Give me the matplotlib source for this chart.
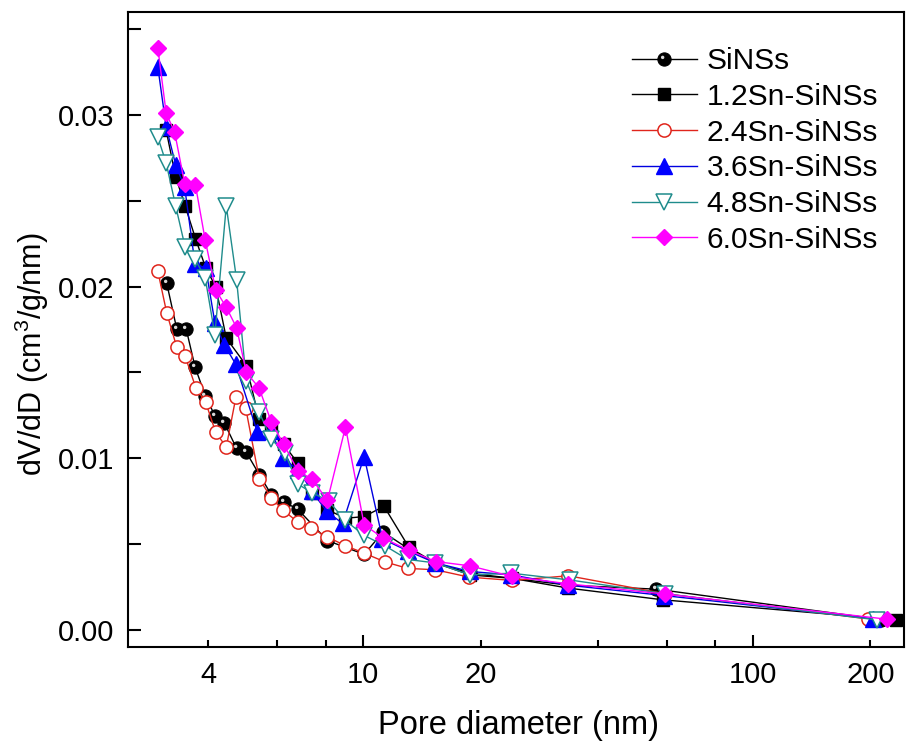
import matplotlib
matplotlib.use('Agg')
import matplotlib.pyplot as plt
import numpy as np
from matplotlib.path import Path
from matplotlib.ticker import FixedLocator, FixedFormatter, NullFormatter
from matplotlib.legend_handler import HandlerTuple

plt.rcParams['font.family'] = ['Liberation Sans', 'DejaVu Sans']
plt.rcParams['mathtext.fontset'] = 'custom'
plt.rcParams['mathtext.rm'] = 'Liberation Sans'

# ---------------- data ----------------
labels = ['SiNSs', '1.2Sn-SiNSs', '2.4Sn-SiNSs', '3.6Sn-SiNSs', '4.8Sn-SiNSs', '6.0Sn-SiNSs']

x_sinss = [3.13, 3.32, 3.51, 3.70, 3.93, 4.16, 4.40, 4.73, 5.01, 5.41, 5.81, 6.25, 6.78,
           8.09, 10.05, 11.24, 13.1, 15.3, 18.8, 24.1, 33.6, 56.5, 213]
y_sinss = [0.0202, 0.01755, 0.01755, 0.01532, 0.01364, 0.01248, 0.01205, 0.01057, 0.01034,
           0.00904, 0.00787, 0.00745, 0.00704, 0.0052, 0.0044, 0.0057, 0.0047, 0.0039,
           0.0033, 0.0030, 0.0026, 0.00237, 0.0006]

x_12 = [3.12, 3.30, 3.49, 3.71, 3.94, 4.18, 4.45, 5.01, 5.40, 5.81, 6.25, 6.80, 7.38,
        8.09, 9.00, 10.05, 11.3, 13.1, 15.3, 18.8, 24.1, 33.6, 58.7, 233]
y_12 = [0.0291, 0.0264, 0.0247, 0.0228, 0.0211, 0.0200, 0.0170, 0.0154, 0.0123, 0.0117,
        0.0108, 0.0097, 0.0080, 0.0070, 0.0065, 0.0066, 0.0072, 0.0048, 0.0039, 0.0032,
        0.0030, 0.00243, 0.00175, 0.00058]

x_24 = [2.97, 3.13, 3.32, 3.49, 3.72, 3.94, 4.18, 4.45, 4.71, 4.99, 5.41, 5.81, 6.23,
        6.81, 7.36, 8.09, 9.00, 10.05, 11.36, 13.0, 15.3, 18.7, 24.1, 33.6, 59.6, 197]
y_24 = [0.0209, 0.01847, 0.01648, 0.01594, 0.01409, 0.01326, 0.01151, 0.01065, 0.01355,
        0.01293, 0.00879, 0.00768, 0.00696, 0.00626, 0.00593, 0.00541, 0.0049, 0.00447,
        0.00396, 0.00358, 0.0035, 0.00307, 0.00288, 0.00315, 0.0021, 0.00064]

x_36 = [2.97, 3.12, 3.30, 3.48, 3.70, 3.94, 4.16, 4.40, 4.70, 5.35, 5.78, 6.23, 6.81,
        7.38, 8.05, 8.85, 10.05, 11.2, 13.0, 15.3, 18.8, 24.0, 33.6, 59.0, 203]
y_36 = [0.0328, 0.0293, 0.0271, 0.0258, 0.0213, 0.0211, 0.0179, 0.0166, 0.0155, 0.0115,
        0.0116, 0.0100, 0.0093, 0.0081, 0.0069, 0.0062, 0.0101, 0.0053, 0.0046, 0.0039,
        0.0034, 0.0032, 0.0026, 0.0020, 0.00065]

x_48 = [2.97, 3.12, 3.30, 3.49, 3.70, 3.93, 4.16, 4.45, 4.73, 5.01, 5.40, 5.81, 6.30,
        6.78, 7.38, 8.15, 8.96, 10.05, 11.36, 13.0, 15.3, 18.8, 24.0, 34.0, 59.6, 208]
y_48 = [0.0287, 0.0272, 0.0247, 0.0223, 0.0216, 0.0205, 0.0172, 0.0247, 0.0204, 0.0145,
        0.0127, 0.0111, 0.0103, 0.0085, 0.0080, 0.0075, 0.0064, 0.0055, 0.0049, 0.0041,
        0.0039, 0.0032, 0.0033, 0.0029, 0.0021, 0.00058]

x_60 = [2.97, 3.12, 3.28, 3.48, 3.71, 3.93, 4.18, 4.45, 4.73, 5.01, 5.40, 5.81, 6.25,
        6.81, 7.39, 8.09, 9.00, 10.05, 11.24, 13.1, 15.35, 18.76, 24.1, 33.6, 59.6, 220.8]
y_60 = [0.0339, 0.0301, 0.0290, 0.0260, 0.0259, 0.0227, 0.0198, 0.0188, 0.0176, 0.0150,
        0.0141, 0.0121, 0.0108, 0.00923, 0.00878, 0.00754, 0.01182, 0.00612, 0.00535,
        0.00463, 0.00398, 0.00373, 0.00311, 0.00268, 0.00208, 0.00062]

x_major = [10, 100]
x_minor = [4, 6, 8, 20, 40, 60, 80, 200]
x_minor_labels = ['4', '', '', '20', '', '', '', '200']
y_major = [0.00, 0.01, 0.02, 0.03]
y_minor = [0.005, 0.015, 0.025, 0.035]

# ---------------- figure ----------------
fig = plt.figure(figsize=(9.10, 7.42), dpi=100)
ax = fig.add_axes([128 / 910, 1 - 647 / 742, (904 - 128) / 910, (647 - 12) / 742])

# highlight marker (offset small circle) for the "sphere" look
circ = Path.circle(center=(-0.28, 0.32), radius=0.26)
hl_verts = np.vstack([[[1.0, 1.0], [-1.0, -1.0]], circ.vertices])
hl_codes = np.concatenate([[Path.MOVETO, Path.MOVETO], circ.codes])
hl_marker = Path(hl_verts, hl_codes)

lw = 1.0
h0, = ax.plot(x_sinss, y_sinss, color='black', lw=lw, marker='o', ms=9.5,
              mfc='black', mec='black', mew=0.8, zorder=3)
h0b, = ax.plot(x_sinss, y_sinss, ls='none', marker=hl_marker, ms=9.5,
               mfc='#d8d8d8', mec='none', zorder=3.1)
h1, = ax.plot(x_12, y_12, color='black', lw=lw, marker='s', ms=8.5,
              mfc='black', mec='black', zorder=4)
h2, = ax.plot(x_24, y_24, color='#e0251c', lw=lw, marker='o', ms=9.5,
              mfc='white', mec='#e0251c', mew=1.1, zorder=5)
h3, = ax.plot(x_36, y_36, color='#0000e0', lw=lw, marker='^', ms=11,
              mfc='#0000ff', mec='#0000ff', zorder=6)
h4, = ax.plot(x_48, y_48, color='#1f8c8c', lw=lw, marker='v', ms=11,
              mfc='white', mec='#1f8c8c', mew=1.1, zorder=7)
h5, = ax.plot(x_60, y_60, color='#ff00ff', lw=lw, marker='D', ms=8.5,
              mfc='#ff00ff', mec='#ff00ff', zorder=8)

ax.set_xscale('log')
ax.set_xlim(2.49, 244)
ax.set_ylim(-0.001, 0.036)

ax.xaxis.set_major_locator(FixedLocator(x_major))
ax.xaxis.set_major_formatter(FixedFormatter([str(v) for v in x_major]))
ax.xaxis.set_minor_locator(FixedLocator(x_minor))
ax.xaxis.set_minor_formatter(FixedFormatter(x_minor_labels))
ax.yaxis.set_major_locator(FixedLocator(y_major))
ax.yaxis.set_major_formatter(FixedFormatter(['%.2f' % v for v in y_major]))
ax.yaxis.set_minor_locator(FixedLocator(y_minor))
ax.yaxis.set_minor_formatter(NullFormatter())

tick_fs = 21
ax.tick_params(axis='x', which='major', direction='in', length=9, width=1.5,
               labelsize=tick_fs, pad=10, top=False)
ax.tick_params(axis='x', which='minor', direction='in', length=5, width=1.5,
               labelsize=tick_fs, pad=10, top=False)
ax.tick_params(axis='y', which='both', direction='in', length=9.5, width=1.5,
               labelsize=tick_fs, pad=10, right=False)
for s in ax.spines.values():
    s.set_linewidth(1.5)

ax.set_xlabel('Pore diameter (nm)', fontsize=23.5)
ax.xaxis.set_label_coords(0.503, -0.123, transform=ax.transAxes)
ax.xaxis.label.set_va('center')
ax.set_ylabel('dV/dD (cm$^{3}$/g/nm)', fontsize=22)
ax.yaxis.set_label_coords(-0.124, 0.461, transform=ax.transAxes)
ax.yaxis.label.set_va('center')

leg = ax.legend([(h0, h0b), h1, h2, h3, h4, h5], labels,
                handler_map={tuple: HandlerTuple(ndivide=1)},
                loc='upper left', bbox_to_anchor=(632 / 910, 695 / 742),
                bbox_transform=fig.transFigure, frameon=False, fontsize=21.5,
                numpoints=1, handlelength=2.17, handletextpad=0.33,
                labelspacing=0.26, borderpad=0, borderaxespad=0)

fig.savefig('out.png', dpi=100)
